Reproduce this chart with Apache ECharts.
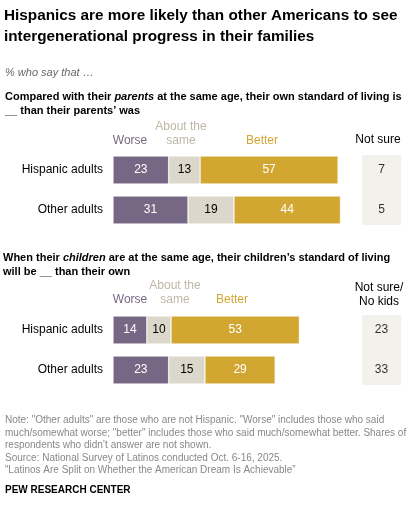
<!DOCTYPE html>
<html><head><meta charset="utf-8">
<script src="https://cdn.jsdelivr.net/npm/echarts@6/dist/echarts.min.js"></script>
<style>body{margin:0}#c{width:420px;height:505px}</style></head>
<body><div id="c"></div>
<script>
const groups = ['Hispanic adults', 'Other adults'];
const worse1 = [23, 31], same1 = [13, 19], better1 = [57, 44], notSure1 = [7, 5];
const worse2 = [14, 23], same2 = [10, 15], better2 = [53, 29], notSure2 = [23, 33];

const C = { worse: '#766884', same: '#dbd7ca', better: '#d2a731', box: '#f3f1ec' };
const chart = echarts.init(document.getElementById('c'));
const F = 'Arial, "Liberation Sans", sans-serif';

const grids = [
  { left: 113, top: 150, width: 242, height: 80 },
  { left: 113, top: 310, width: 242, height: 80 },
  { left: 362, top: 150, width: 39, height: 80 },
  { left: 362, top: 310, width: 39, height: 80 }
];
const xAxes = grids.map((g, i) => ({ gridIndex: i, type: 'value', min: 0, max: i < 2 ? 100 : 1, show: false }));
const yAxes = grids.map((g, i) => ({
  gridIndex: i, type: 'category', data: groups, inverse: true,
  axisLine: { show: false }, axisTick: { show: false },
  axisLabel: { show: i < 2, color: '#000', fontSize: 12, fontFamily: F, margin: 10 }
}));
function seg(name, data, color, gi, labelColor) {
  return {
    type: 'bar', name, stack: 's' + gi, xAxisIndex: gi, yAxisIndex: gi, data, barWidth: 28,
    itemStyle: { color, borderColor: '#fff', borderWidth: 0.5 },
    label: { show: true, color: labelColor, fontSize: 12, fontFamily: F },
    animation: false
  };
}
function ns(data, gi) {
  return {
    type: 'scatter', xAxisIndex: gi, yAxisIndex: gi, symbolSize: 0,
    data: data.map((v, i) => [0.5, groups[i], v]),
    label: { show: true, position: 'inside', formatter: p => p.data[2], color: '#000', fontSize: 12, fontFamily: F },
    animation: false
  };
}
function txt(x, y, t, o = {}) {
  return { type: 'text', left: x, top: y, style: Object.assign({ text: t, fill: '#000', font: '11px ' + F }, o) };
}
function ctr(x, y, t, fill) {
  return { type: 'text', x, y, style: { text: t, fill, font: '12px ' + F, align: 'center', verticalAlign: 'middle', lineHeight: 14 } };
}
const rich = { b: { font: 'bold 11px ' + F, fill: '#000' }, i: { font: 'bold italic 11px ' + F, fill: '#000' } };
const note = [
  'Note: "Other adults" are those who are not Hispanic. "Worse" includes those who said',
  'much/somewhat worse; "better" includes those who said much/somewhat better. Shares of',
  'respondents who didn\u2019t answer are not shown.',
  'Source: National Survey of Latinos conducted Oct. 6-16, 2025.',
  '\u201cLatinos Are Split on Whether the American Dream Is Achievable\u201d'
];
chart.setOption({
  animation: false,
  grid: grids, xAxis: xAxes, yAxis: yAxes,
  graphic: [
    { type: 'rect', shape: { x: 362, y: 155, width: 39, height: 70 }, style: { fill: C.box }, z: -1 },
    { type: 'rect', shape: { x: 362, y: 315, width: 39, height: 70 }, style: { fill: C.box }, z: -1 },
    txt(4, 5, 'Hispanics are more likely than other Americans to see\nintergenerational progress in their families',
      { font: 'bold 15.3px ' + F, lineHeight: 21 }),
    txt(5, 67, '% who say that \u2026', { font: 'italic 11px ' + F, fill: '#666' }),
    { type: 'text', left: 5, top: 90, style: { rich, lineHeight: 14,
      text: '{b|Compared with their }{i|parents}{b| at the same age, their own standard of living is}\n{b|__ than their parents\u2019 was}' } },
    { type: 'text', left: 3, top: 251, style: { rich, lineHeight: 14,
      text: '{b|When their }{i|children}{b| are at the same age, their children\u2019s standard of living}\n{b|will be __ than their own}' } },
    ctr(130, 141, 'Worse', C.worse), ctr(181, 134, 'About the\nsame', '#bdb8a6'), ctr(262, 141, 'Better', C.better),
    ctr(378, 140, 'Not sure', '#000'),
    ctr(130, 300, 'Worse', C.worse), ctr(175, 293, 'About the\nsame', '#bdb8a6'), ctr(232, 300, 'Better', C.better),
    ctr(379, 295, 'Not sure/\nNo kids', '#000'),
    txt(5, 414, note.join('\n'), { font: '10px ' + F, fill: '#888', lineHeight: 12.6 }),
    txt(5, 485, 'PEW RESEARCH CENTER', { font: 'bold 10px ' + F })
  ],
  series: [
    seg('Worse', worse1, C.worse, 0, '#fff'), seg('Same', same1, C.same, 0, '#000'), seg('Better', better1, C.better, 0, '#fff'),
    seg('Worse', worse2, C.worse, 1, '#fff'), seg('Same', same2, C.same, 1, '#000'), seg('Better', better2, C.better, 1, '#fff'),
    ns(notSure1, 2), ns(notSure2, 3)
  ]
});
</script></body></html>
